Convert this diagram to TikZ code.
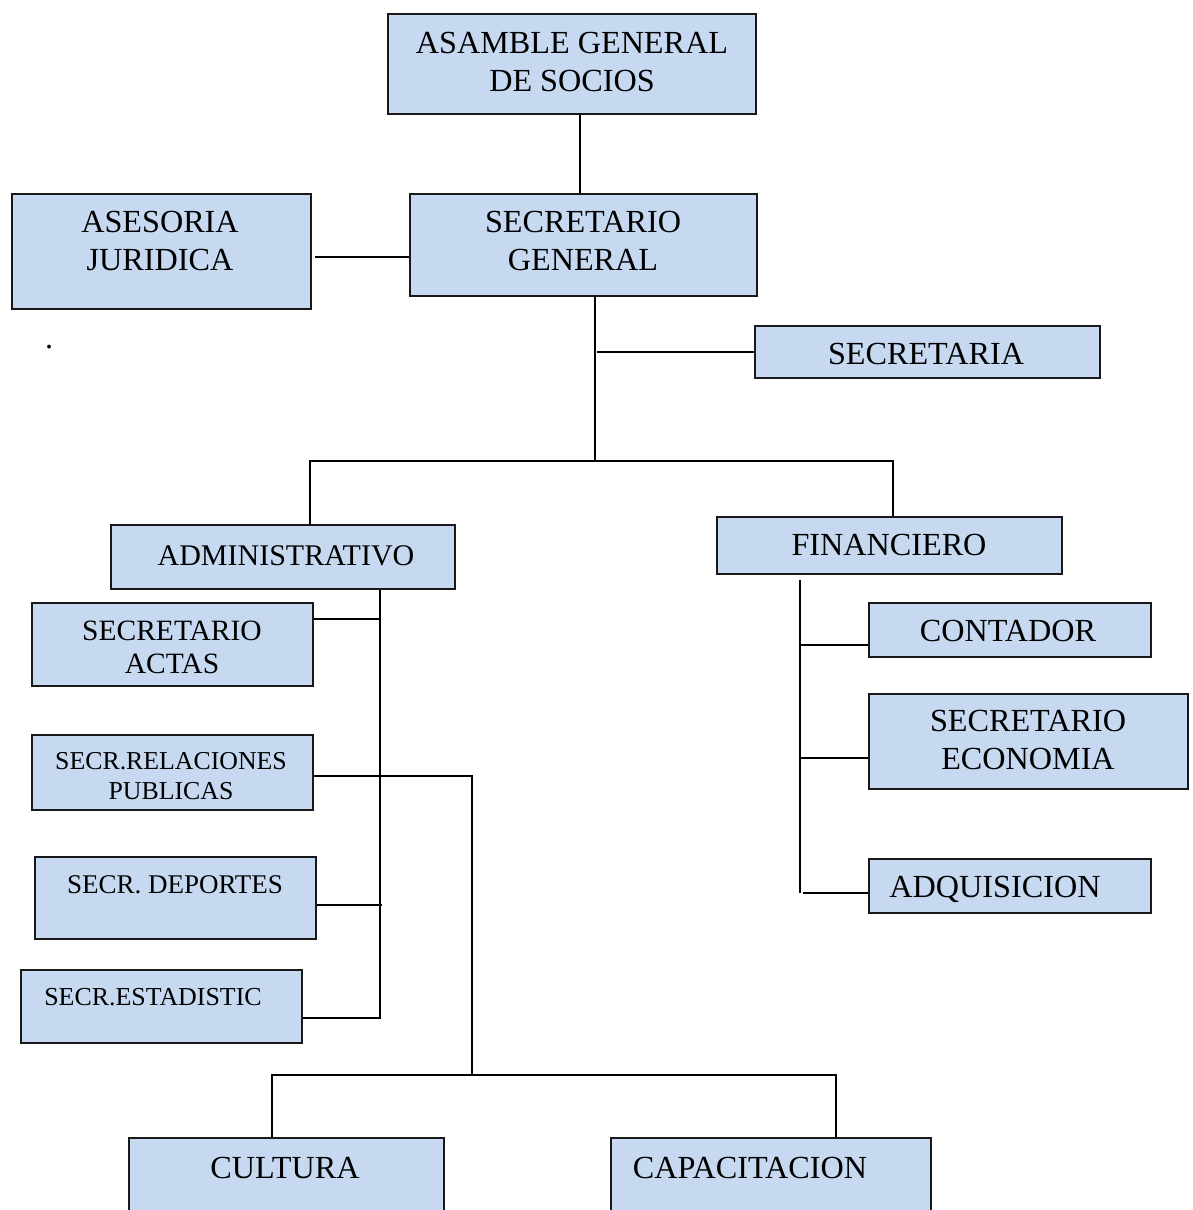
\documentclass[tikz,border=0pt]{standalone}
\usepackage{fontspec}
\setmainfont{Liberation Serif}
\definecolor{boxblue}{RGB}{198,217,241}
\definecolor{edge}{RGB}{25,25,25}
\begin{document}
\begin{tikzpicture}[x=1pt,y=-1pt,
  box/.style={draw=edge, fill=boxblue, line width=1.7pt, inner sep=0pt, anchor=north west},
  lbl/.style={inner sep=0pt, text depth=0pt, align=center, font=\fontsize{32.2}{37.5}\selectfont},
  conn/.style={draw=black, line width=1.7pt}]
\clip (0,0) rectangle (1192,1210);
\fill[white] (0,0) rectangle (1192,1210);
% boxes
\node[box, minimum width=368pt, minimum height=100pt] (bAsam) at (387,13) {};
\node[box, minimum width=299pt, minimum height=115pt] (bAses) at (11,193) {};
\node[box, minimum width=347pt, minimum height=102pt] (bSecGen) at (409,193) {};
\node[box, minimum width=345pt, minimum height=52pt] (bSecria) at (754,325) {};
\node[box, minimum width=344pt, minimum height=64pt] (bAdmin) at (110,524) {};
\node[box, minimum width=345pt, minimum height=57pt] (bFin) at (716,516) {};
\node[box, minimum width=281pt, minimum height=83pt] (bActas) at (31,602) {};
\node[box, minimum width=281pt, minimum height=75pt] (bRel) at (31,734) {};
\node[box, minimum width=281pt, minimum height=82pt] (bDep) at (34,856) {};
\node[box, minimum width=281pt, minimum height=73pt] (bEst) at (20,969) {};
\node[box, minimum width=282pt, minimum height=54pt] (bCont) at (868,602) {};
\node[box, minimum width=319pt, minimum height=95pt] (bEcon) at (868,693) {};
\node[box, minimum width=282pt, minimum height=54pt] (bAdq) at (868,858) {};
\node[box, minimum width=315pt, minimum height=110pt] (bCult) at (128,1137) {};
\node[box, minimum width=320pt, minimum height=110pt] (bCap) at (610,1137) {};
% labels
\node[lbl] (tAsam) at (572,62) {ASAMBLE GENERAL\\DE SOCIOS};
\node[lbl] (tAses) at (160,241) {ASESORIA\\JURIDICA};
\node[lbl] (tSecGen) at (583,241) {SECRETARIO\\GENERAL};
\node[lbl] (tSecria) at (926,354) {SECRETARIA};
\node[lbl, font=\fontsize{30}{35}\selectfont] (tAdmin) at (286,556) {ADMINISTRATIVO};
\node[lbl] (tFin) at (889,545) {FINANCIERO};
\node[lbl, font=\fontsize{29.5}{32.5}\selectfont] (tActas) at (172,647) {SECRETARIO\\ACTAS};
\node[lbl, font=\fontsize{25.8}{29.5}\selectfont] (tRel) at (171,776) {SECR.RELACIONES\\PUBLICAS};
\node[lbl, font=\fontsize{27}{31}\selectfont] (tDep) at (175,885) {SECR. DEPORTES};
\node[lbl, font=\fontsize{25.9}{30}\selectfont] (tEst) at (153,997) {SECR.ESTADISTIC};
\node[lbl] (tCont) at (1008,631) {CONTADOR};
\node[lbl] (tEcon) at (1028,740) {SECRETARIO\\ECONOMIA};
\node[lbl] (tAdq) at (995,887) {ADQUISICION};
\node[lbl] (tCult) at (285,1168) {CULTURA};
\node[lbl] (tCap) at (750,1168) {CAPACITACION};
\node[inner sep=0pt, anchor=base, font=\fontsize{32}{36}\selectfont] (tDot) at (49,348) {.};
% junction coordinates
\coordinate (cA) at (580,150);
\coordinate (cB) at (315,257);
\coordinate (cT) at (595,461);
\coordinate (cS) at (597,352);
\coordinate (cL) at (310,461);
\coordinate (cR) at (893,461);
\coordinate (cAd) at (380,1018);
\coordinate (cAc) at (381,619);
\coordinate (cDp) at (382,905);
\coordinate (cRl) at (472,776);
\coordinate (cBus) at (472,1075);
\coordinate (cCl) at (272,1075);
\coordinate (cCp) at (836,1075);
\coordinate (cF1) at (800,580);
\coordinate (cF2) at (800,893);
\coordinate (cCo) at (800,645);
\coordinate (cEc) at (800,758);
\coordinate (cAq) at (803,893);
% connectors
\draw[conn] (bAsam.south -| cA) -- (bSecGen.north -| cA);
\draw[conn] (cB) -- (bSecGen.west |- cB);
\draw[conn] (bSecGen.south -| cT) -- (cT);
\draw[conn] (cS) -- (bSecria.west |- cS);
\draw[conn] (bAdmin.north -| cL) -- (cL) -- (cR) -- (bFin.north -| cR);
\draw[conn] (bAdmin.south -| cAd) -- (cAd) -- (bEst.east |- cAd);
\draw[conn] (cAc) -- (bActas.east |- cAc);
\draw[conn] (cDp) -- (bDep.east |- cDp);
\draw[conn] (bRel.east |- cRl) -- (cRl) -- (cBus);
\draw[conn] (bCult.north -| cCl) -- (cCl) -- (cCp) -- (bCap.north -| cCp);
\draw[conn] (cF1) -- (cF2);
\draw[conn] (cCo) -- (bCont.west |- cCo);
\draw[conn] (cEc) -- (bEcon.west |- cEc);
\draw[conn] (cAq) -- (bAdq.west |- cAq);
\end{tikzpicture}
\end{document}
